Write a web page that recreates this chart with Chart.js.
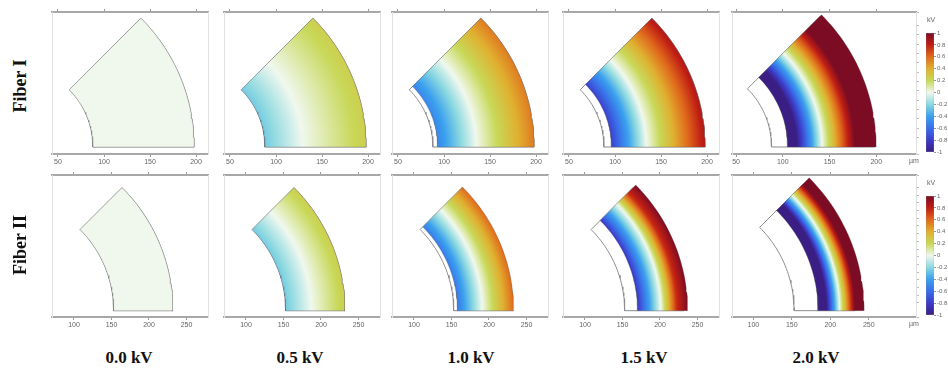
<!DOCTYPE html>
<html lang="en">
<head>
<meta charset="UTF-8">
<title>Fiber potential</title>
<script src="https://cdn.jsdelivr.net/npm/chart.js"></script>
<style>
    body {
        margin: 0;
        background: #fff;
    }
    #page {
        position: relative;
        width: 948px;
        height: 377px;
        overflow: hidden;
    }
    #page canvas, .lbl {
        position: absolute;
    }
    .row-title {
        font: bold 18px 'Liberation Serif', serif;
        color: #111;
        transform: translate(-50%, -50%) rotate(-90deg);
        white-space: nowrap;
    }
    .col-title {
        font: bold 17px 'Liberation Serif', serif;
        color: #111;
        transform: translate(-50%, -50%);
        white-space: nowrap;
    }
    .unit {
        font: 7px 'Liberation Sans', sans-serif;
        color: #666;
        transform: translate(-50%, -50%);
    }
</style>
</head>
<body>
<div id="page"></div>
<script>
// ---- data ----
const voltages = ['0.0 kV', '0.5 kV', '1.0 kV', '1.5 kV', '2.0 kV'];
const fibers = ['Fiber I', 'Fiber II'];
const sectorAngle = 45; // degrees

// undeformed inner / outer radius (µm)
const fiber1Radius = [88, 198];
const fiber2Radius = [153, 232];

const fiber1Ticks = [50, 100, 150, 200];
const fiber2Ticks = [100, 150, 200, 250];

// potential (kV) read along the bottom edge, radius in µm, one entry per voltage
const fiber1Radii = [
    [88, 198],
    [88, 129, 198],
    [93, 135, 198],
    [96, 134, 198],
    [105, 115, 142, 177, 200]
];
const fiber1Potential = [
    [0, 0],
    [-0.25, 0, 0.25],
    [-0.5, 0, 0.55],
    [-0.78, 0, 0.85],
    [-1.3, -1, 0, 1, 1.5]
];
const fiber2Radii = [
    [153, 232],
    [153, 187, 232],
    [158, 191, 233],
    [170, 201, 222, 237],
    [184, 195, 212, 232, 244]
];
const fiber2Potential = [
    [0, 0],
    [-0.25, 0, 0.25],
    [-0.55, 0, 0.6],
    [-0.82, 0, 0.75, 1.0],
    [-1.3, -1, 0, 1, 1.4]
];

// colour scale
const cbarValues = [-1, -0.8, -0.6, -0.4, -0.2, 0, 0.2, 0.4, 0.6, 0.8, 1];
const cbarColors = ['#3a1e84', '#3c3cc8', '#3a6ee8', '#3aa0ee', '#8ad8e0', '#f0f8ee',
    '#c8d858', '#e0b030', '#e06a1c', '#c01e14', '#7c0c24'];

// ---- layout ----
const page = document.getElementById('page');
const lefts = [52, 224, 392, 563, 732];
const widths = [156, 156, 156, 156, 184];
const rowTop = [0, 163];
const ranges = [
    [{ x: [43.5, 213], y: [-7.6, 146.7] }, { x: [45.7, 242.5], y: [-7.5, 144.4] }],
    [{ x: [70.7, 278.7], y: [-8.4, 180.9] }, { x: [72.3, 311.3], y: [-8.2, 176.2] }]
];

function hexRgb(h) {
    return [1, 3, 5].map(i => parseInt(h.substr(i, 2), 16));
}
const cbarRgb = cbarColors.map(hexRgb);

function colorFor(v) {
    v = Math.max(-1, Math.min(1, v));
    for (let i = 0; i < cbarValues.length - 1; i++) {
        if (v <= cbarValues[i + 1]) {
            const t = (v - cbarValues[i]) / (cbarValues[i + 1] - cbarValues[i]);
            const a = cbarRgb[i], b = cbarRgb[i + 1];
            return `rgb(${a.map((c, k) => Math.round(c + (b[k] - c) * t)).join(',')})`;
        }
    }
    return cbarColors[cbarColors.length - 1];
}

// gradient stops: the read values plus where they cross the colour scale knots
function stopsFor(rs, vs) {
    const out = [];
    for (let i = 0; i < rs.length; i++) {
        out.push([rs[i], vs[i]]);
        if (i < rs.length - 1) {
            const a = vs[i], b = vs[i + 1];
            cbarValues.forEach(k => {
                if ((k - a) * (k - b) < 0) out.push([rs[i] + (rs[i + 1] - rs[i]) * (k - a) / (b - a), k]);
            });
        }
    }
    return out.sort((p, q) => p[0] - q[0]);
}

function polar(r, deg) {
    const a = deg * Math.PI / 180;
    return { x: r * Math.cos(a), y: r * Math.sin(a) };
}

function sectorPoints(r0, r1) {
    const pts = [];
    for (let a = 0; a <= sectorAngle + 0.01; a += 1.5) pts.push(polar(r1, a));
    for (let a = sectorAngle; a >= -0.01; a -= 1.5) pts.push(polar(r0, a));
    pts.push(polar(r1, 0));
    return pts;
}

function addLabel(cls, text, x, y) {
    const d = document.createElement('div');
    d.className = 'lbl ' + cls;
    d.textContent = text;
    d.style.left = x + 'px';
    d.style.top = y + 'px';
    page.appendChild(d);
}

function makeCanvas(x, y, w, h) {
    const c = document.createElement('canvas');
    c.width = w;
    c.height = h;
    c.style.left = x + 'px';
    c.style.top = y + 'px';
    c.style.width = w + 'px';
    c.style.height = h + 'px';
    page.appendChild(c);
    return c;
}

function makePanel(row, col) {
    const base = row === 0 ? fiber1Radius : fiber2Radius;
    const rs = (row === 0 ? fiber1Radii : fiber2Radii)[col];
    const vs = (row === 0 ? fiber1Potential : fiber2Potential)[col];
    const tickVals = row === 0 ? fiber1Ticks : fiber2Ticks;
    const rg = ranges[row][col === 4 ? 1 : 0];
    const canvas = makeCanvas(lefts[col] - 4, rowTop[row], widths[col] + 8, 172);

    const fixTicks = s => { s.ticks = tickVals.filter(v => v >= s.min && v <= s.max).map(v => ({ value: v })); };
    const sideAxis = (pos, ticks) => ({
        type: 'linear', position: pos, min: rg.y[0], max: rg.y[1],
        ticks: { display: false, stepSize: 10 },
        grid: { drawOnChartArea: false, drawTicks: ticks, tickLength: 3, color: '#bbb' },
        border: { color: '#e2e2e2', width: 1 },
        afterFit: s => { s.width = 0; }
    });

    new Chart(canvas, {
        type: 'scatter',
        data: {
            datasets: [
                {
                    data: sectorPoints(base[0], base[1]),
                    showLine: true, fill: false, pointRadius: 0, tension: 0,
                    borderColor: '#8c8c8c', borderWidth: 1, order: 2
                },
                {
                    data: sectorPoints(rs[0], rs[rs.length - 1]),
                    showLine: true, fill: 'shape', pointRadius: 0, tension: 0,
                    borderColor: 'rgba(90,90,90,0.35)', borderWidth: 0.8, order: 1,
                    backgroundColor: ctx => {
                        const chart = ctx.chart;
                        if (!chart.chartArea) return null;
                        const sx = chart.scales.x, sy = chart.scales.y;
                        const cx = sx.getPixelForValue(0), cy = sy.getPixelForValue(0);
                        const k = sx.getPixelForValue(1) - cx;
                        const r0 = rs[0], r1 = rs[rs.length - 1];
                        const g = chart.ctx.createRadialGradient(cx, cy, r0 * k, cx, cy, r1 * k);
                        stopsFor(rs, vs).forEach(([r, v]) => g.addColorStop((r - r0) / (r1 - r0), colorFor(v)));
                        return g;
                    }
                }
            ]
        },
        options: {
            responsive: false,
            animation: false,
            events: [],
            layout: { padding: { left: 4, right: 4, top: 8, bottom: 4 } },
            plugins: { legend: { display: false }, tooltip: { enabled: false } },
            scales: {
                x: {
                    type: 'linear', position: 'bottom', min: rg.x[0], max: rg.x[1],
                    afterBuildTicks: fixTicks,
                    ticks: { autoSkip: false, maxRotation: 0, padding: 1, color: '#666', font: { family: 'Liberation Sans', size: 7 } },
                    grid: { drawOnChartArea: false, tickLength: 3, color: '#999' },
                    border: { color: '#a8a8a8', width: 2 },
                    afterFit: s => { s.height = 14; }
                },
                x2: {
                    type: 'linear', position: 'top', min: rg.x[0], max: rg.x[1],
                    afterBuildTicks: fixTicks,
                    ticks: { display: false },
                    grid: { drawOnChartArea: false, tickLength: 3, color: '#999' },
                    border: { color: '#a8a8a8', width: 2 },
                    afterFit: s => { s.height = 4; }
                },
                y: sideAxis('left', false),
                y2: sideAxis('right', col === 4)
            }
        }
    });

    if (col === 4) addLabel('unit', 'µm', 914, rowTop[row] + 160);
}

function makeColorbar(row) {
    const top = rowTop[row] + 28;
    const canvas = makeCanvas(922, top, 26, 130);
    new Chart(canvas, {
        type: 'bar',
        data: {
            labels: ['kV'],
            datasets: [{
                data: [[-1, 1]],
                borderColor: '#888', borderWidth: 0.5, borderSkipped: false,
                barPercentage: 1, categoryPercentage: 1,
                backgroundColor: ctx => {
                    const chart = ctx.chart;
                    if (!chart.chartArea) return null;
                    const y = chart.scales.y;
                    const g = chart.ctx.createLinearGradient(0, y.getPixelForValue(1), 0, y.getPixelForValue(-1));
                    cbarValues.forEach((v, i) => g.addColorStop((1 - v) / 2, cbarColors[i]));
                    return g;
                }
            }]
        },
        options: {
            responsive: false,
            animation: false,
            events: [],
            layout: { padding: { left: 4, right: 0, top: 5, bottom: 6 } },
            plugins: { legend: { display: false }, tooltip: { enabled: false } },
            scales: {
                x: { display: false },
                y: {
                    position: 'right', min: -1, max: 1,
                    ticks: {
                        stepSize: 0.2, padding: 1, color: '#666',
                        font: { family: 'Liberation Sans', size: 6 },
                        callback: v => String(+v.toFixed(1))
                    },
                    grid: { drawOnChartArea: false, tickLength: 2, color: '#999' },
                    border: { display: false },
                    afterFit: s => { s.width = 14; }
                }
            }
        }
    });
    addLabel('unit', 'kV', 931, top - 9);
}

for (let row = 0; row < 2; row++) {
    for (let col = 0; col < 5; col++) makePanel(row, col);
    makeColorbar(row);
}

addLabel('row-title', fibers[0], 20, 86);
addLabel('row-title', fibers[1], 20, 245);
const colCenters = [129, 300, 471, 644, 816];
voltages.forEach((v, i) => addLabel('col-title', v, colCenters[i], 358));
</script>
</body>
</html>
